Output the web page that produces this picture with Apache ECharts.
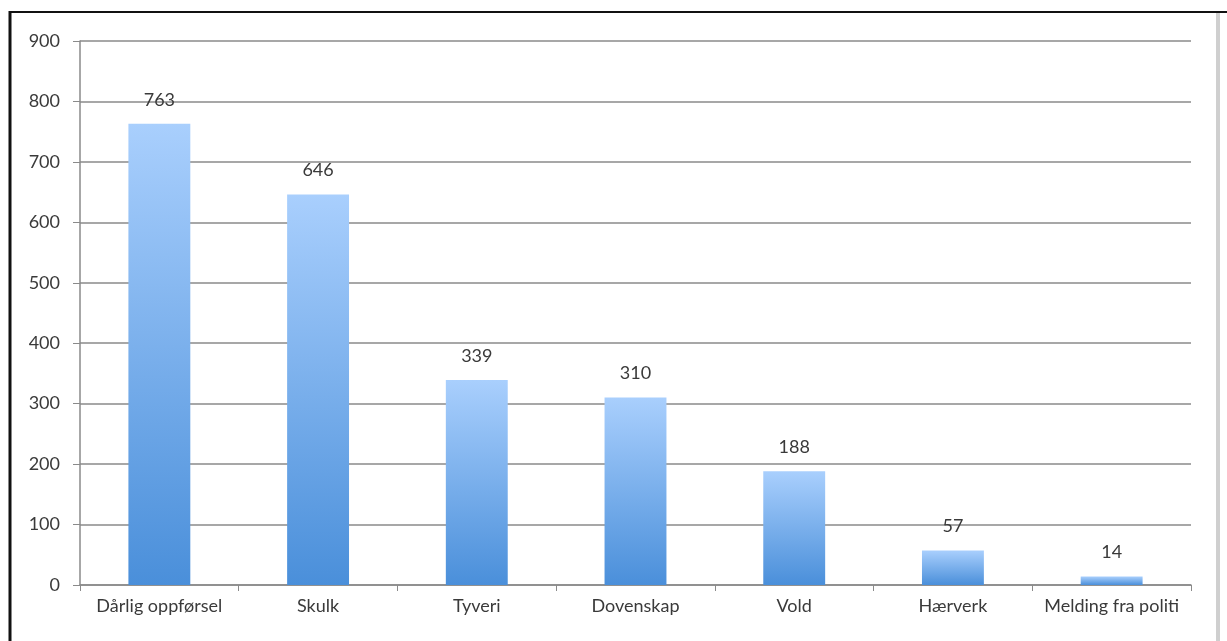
<!DOCTYPE html>
<html><head><meta charset="utf-8">
<script src="https://cdn.jsdelivr.net/npm/echarts@6/dist/echarts.min.js"></script>
<style>html,body{margin:0;padding:0;background:#fff}#c{width:1227px;height:641px}</style>
</head><body><div id="c"></div>
<script>
const categories = ["Dårlig oppførsel","Skulk","Tyveri","Dovenskap","Vold","Hærverk","Melding fra politi"];
const values = [763,646,339,310,188,57,14];
const yTicks = {min:0,max:900,interval:100};

const FONT = 'Lato, sans-serif';
const chart = echarts.init(document.getElementById('c'));
chart.setOption({
  animation:false,
  backgroundColor:'#fff',
  graphic:[
    {type:'line',shape:{x1:10,y1:12,x2:1227,y2:12},style:{stroke:'#111',lineWidth:2},z:100},
    {type:'line',shape:{x1:10,y1:11,x2:10,y2:641},style:{stroke:'#111',lineWidth:3},z:100},
    {type:'line',shape:{x1:1218,y1:13,x2:1218,y2:641},style:{stroke:'#cfcfcf',lineWidth:4},z:100}
  ],
  grid:{left:80,right:36,top:41,bottom:56,containLabel:false},
  xAxis:{
    type:'category',data:categories,
    axisLine:{lineStyle:{color:'#8a8a8a',width:1.5}},
    axisTick:{show:true,length:6,lineStyle:{color:'#8a8a8a'}},
    axisLabel:{color:'#3a3a3a',fontSize:18,fontFamily:FONT,margin:12,interval:0}
  },
  yAxis:{
    type:'value',min:yTicks.min,max:yTicks.max,interval:yTicks.interval,
    axisLine:{show:true,lineStyle:{color:'#8a8a8a',width:1.5}},
    axisTick:{show:true,length:7,lineStyle:{color:'#8a8a8a'}},
    splitLine:{lineStyle:{color:'#8a8a8a',width:1.5}},
    axisLabel:{color:'#3a3a3a',fontSize:18,fontFamily:FONT,margin:20}
  },
  series:[{
    type:'bar',data:values,barWidth:'39%',
    itemStyle:{color:new echarts.graphic.LinearGradient(0,0,0,1,[{offset:0,color:'#a9cffd'},{offset:1,color:'#4a8fda'}])},
    label:{show:true,position:'top',distance:15,color:'#3a3a3a',fontSize:18,fontFamily:FONT}
  }]
});
</script></body></html>
